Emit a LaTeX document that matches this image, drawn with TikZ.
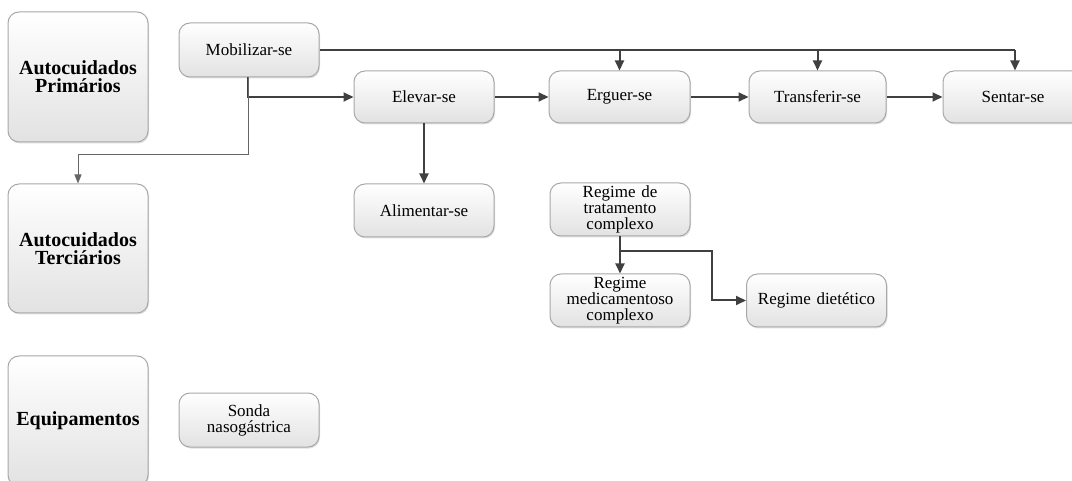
\documentclass[tikz,border=0pt]{standalone}
\usepackage{fontspec}
\setmainfont{Liberation Serif}
\usetikzlibrary{arrows.meta,shadows}
\definecolor{boxline}{HTML}{A8A8A8}
\definecolor{boxbot}{HTML}{E2E2E2}
\definecolor{conn}{HTML}{404040}
\tikzset{
  card/.style={draw=boxline, line width=1pt, rounded corners=11pt,
    top color=white, bottom color=boxbot, align=center,
    inner sep=2pt, font=\fontsize{17}{16}\selectfont,
    drop shadow={shadow xshift=1pt, shadow yshift=-1.5pt, opacity=0.25}},
  smallcard/.style={card, minimum width=140pt, minimum height=53pt, text width=134pt},
  bigcard/.style={card, minimum width=140pt, minimum height=130pt, text width=134pt,
    font=\fontsize{20}{18}\selectfont\bfseries},
  link/.style={draw=conn, line width=2pt, -{Triangle[length=10pt,width=9pt]}},
  plain/.style={draw=conn, line width=2pt},
  thin/.style={draw=conn!80, line width=1pt, -{Triangle[length=9pt,width=7pt]}}
}
\begin{document}
\begin{tikzpicture}[x=1pt,y=1pt]
\useasboundingbox (0,0) rectangle (1072,-481);
\clip (0,0) rectangle (1072,-481);
% big category boxes
\node[bigcard] (prim) at (78,-77) {Autocuidados\\Primários};
\node[bigcard, minimum height=129pt] (terc) at (78,-248.5) {Autocuidados\\Terciários};
\node[bigcard] (equip) at (78,-421) {Equipamentos};
% action boxes
\node[smallcard, minimum height=54pt] (mob) at (249,-50) {Mobilizar-se};
\node[smallcard, minimum height=52pt] (elev) at (424,-97) {Elevar-se};
\node[smallcard, minimum height=52pt, minimum width=141pt] (erg) at (619.5,-97) {Erguer-se};
\node[smallcard, minimum height=52pt, minimum width=137pt, text width=131pt] (trans) at (817.5,-97) {Transferir-se};
\node[smallcard, minimum height=52pt] (sent) at (1013,-97) {Sentar-se};
\node[smallcard] (alim) at (424,-210.5) {Alimentar-se};
\node[smallcard] (regtrat) at (620,-209.5) {Regime de\\tratamento\\complexo};
\node[smallcard] (regmed) at (620,-300.5) {Regime\\medicamentoso\\complexo};
\node[smallcard] (regdiet) at (816.5,-300.5) {Regime dietético};
\node[smallcard, minimum height=54pt] (sonda) at (249,-420) {Sonda\\nasogástrica};
% connectors
\coordinate (topline) at (1015,-50);
\draw[plain] (mob.east) -- (mob.east -| topline);
\draw[link] (mob.east -| erg.north) -- (erg.north);
\draw[link] (mob.east -| trans.north) -- (trans.north);
\draw[link] (topline) -- (topline |- sent.north);
\draw[link] (mob.south -| 248,0) |- (elev.west);
\coordinate (tbend) at (248,-155);
\draw[thin] (mob.south -| tbend) -- (tbend) -| (terc.north);
\draw[link] (elev.east) -- (erg.west);
\draw[link] (erg.east) -- (trans.west);
\draw[link] (trans.east) -- (sent.west);
\draw[link] (elev.south) -- (alim.north);
\draw[link] (regtrat.south) -- (regmed.north);
\coordinate (rb) at (712,-251);
\draw[link] (rb -| regtrat.south) -- (rb) |- (regdiet.west);
\end{tikzpicture}
\end{document}
